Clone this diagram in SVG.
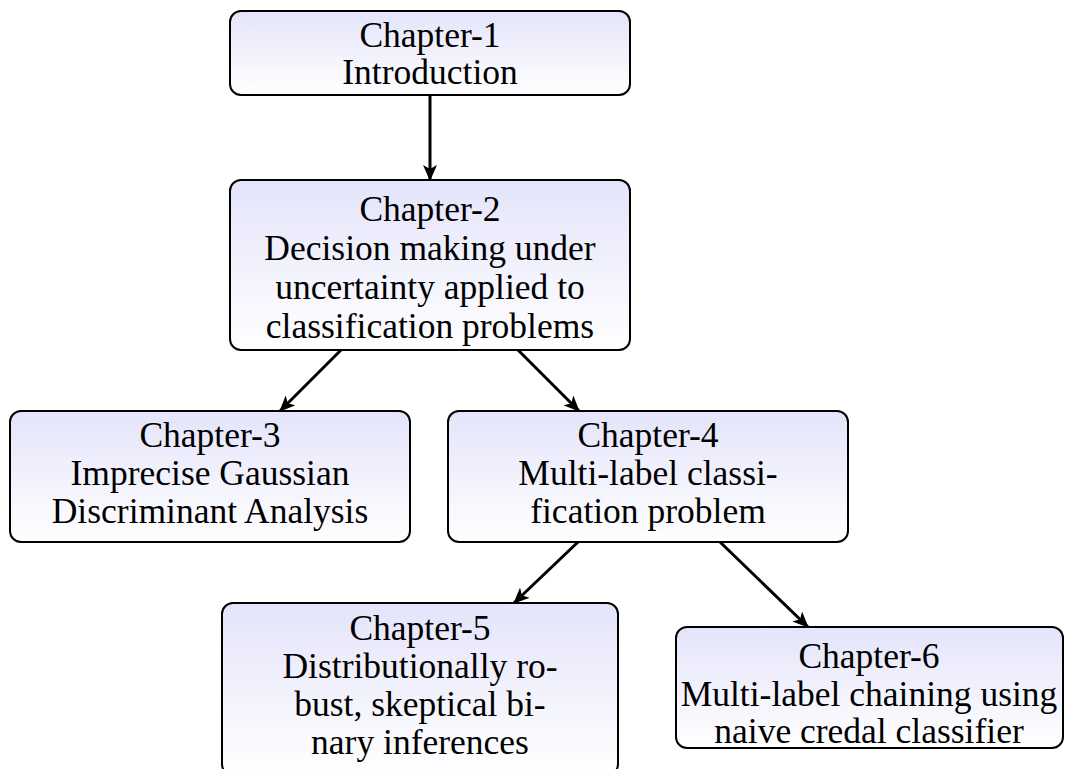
<svg xmlns="http://www.w3.org/2000/svg" width="1067" height="769" viewBox="0 0 1067 769">
<defs>
<linearGradient id="g" x1="0" y1="0" x2="0" y2="1">
<stop offset="0" stop-color="#e4e4fb"/>
<stop offset="1" stop-color="#ffffff"/>
</linearGradient>
<marker id="ah" viewBox="0 0 16 14" refX="15" refY="7" markerWidth="16" markerHeight="14" markerUnits="userSpaceOnUse" orient="auto">
<path d="M0,0 L16,7 L0,14 L4,7 Z" fill="#000"/>
</marker>
<style>
.box{fill:url(#g);stroke:#000;stroke-width:2}
.t{font-family:"Liberation Serif","DejaVu Serif",serif;font-size:35.5px;fill:#000;text-anchor:middle}
.c{stroke:#000;stroke-width:3;fill:none;marker-end:url(#ah)}
</style>
</defs>
<rect width="1067" height="769" fill="#fff"/>
<g id="connectors">
<line class="c" x1="430" y1="95" x2="430" y2="180"/>
<line class="c" x1="341" y1="350" x2="280" y2="411"/>
<line class="c" x1="518" y1="350" x2="579" y2="411"/>
<line class="c" x1="578" y1="542" x2="514" y2="603"/>
<line class="c" x1="720" y1="542" x2="808" y2="627"/>
</g>
<g id="ch1">
<rect class="box" x="230" y="11" width="400" height="84" rx="11"/>
<text class="t" x="430" y="47">Chapter-1</text>
<text class="t" x="430" y="84">Introduction</text>
</g>
<g id="ch2">
<rect class="box" x="230" y="180" width="400" height="170" rx="11"/>
<text class="t" x="430" y="221">Chapter-2</text>
<text class="t" x="430" y="260">Decision making under</text>
<text class="t" x="430" y="299">uncertainty applied to</text>
<text class="t" x="430" y="338">classification problems</text>
</g>
<g id="ch3">
<rect class="box" x="10" y="411" width="400" height="131" rx="11"/>
<text class="t" x="210" y="447">Chapter-3</text>
<text class="t" x="210" y="485">Imprecise Gaussian</text>
<text class="t" x="210" y="523">Discriminant Analysis</text>
</g>
<g id="ch4">
<rect class="box" x="448" y="411" width="400" height="131" rx="11"/>
<text class="t" x="648" y="447">Chapter-4</text>
<text class="t" x="648" y="485">Multi-label classi-</text>
<text class="t" x="648" y="523">fication problem</text>
</g>
<g id="ch5">
<rect class="box" x="222" y="603" width="396" height="172" rx="11"/>
<text class="t" x="420" y="640">Chapter-5</text>
<text class="t" x="420" y="678">Distributionally ro-</text>
<text class="t" x="420" y="716">bust, skeptical bi-</text>
<text class="t" x="420" y="754">nary inferences</text>
</g>
<g id="ch6">
<rect class="box" x="676" y="627" width="387" height="121" rx="11"/>
<text class="t" x="869" y="668">Chapter-6</text>
<text class="t" x="869" y="706">Multi-label chaining using</text>
<text class="t" x="869" y="743">naive credal classifier</text>
</g>
</svg>
